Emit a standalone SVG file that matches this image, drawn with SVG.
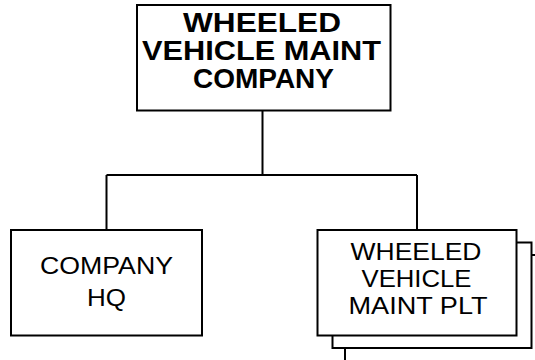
<svg xmlns="http://www.w3.org/2000/svg" width="535" height="360" viewBox="0 0 535 360">
<style>
.box{fill:#fff;stroke:#000;stroke-width:2}
.ln{fill:none;stroke:#000;stroke-width:2}
.t{font-family:"Liberation Sans",Arial,sans-serif;fill:#000;text-anchor:middle}
.b{font-weight:bold;font-size:27px}
.r{font-size:24px}
</style>
<rect width="535" height="360" fill="#fff"/>
<g id="connectors">
<path class="ln" d="M262.5,110.5V175M106.5,175H417M106.5,175V230M417,175V230"/>
</g>
<g id="top">
<rect class="box" x="137" y="5" width="253.5" height="105.5"/>
<text class="t b" x="262" y="32" textLength="158" lengthAdjust="spacingAndGlyphs">WHEELED</text>
<text class="t b" x="261.5" y="60" textLength="239" lengthAdjust="spacingAndGlyphs">VEHICLE MAINT</text>
<text class="t b" x="263.5" y="88" textLength="141" lengthAdjust="spacingAndGlyphs">COMPANY</text>
</g>
<g id="hq">
<rect class="box" x="11" y="230" width="191" height="105.5"/>
<text class="t r" x="106.5" y="274" textLength="133" lengthAdjust="spacingAndGlyphs">COMPANY</text>
<text class="t r" x="106.5" y="306" textLength="39" lengthAdjust="spacingAndGlyphs">HQ</text>
</g>
<g id="plt">
<path class="ln" d="M345,360V255H536"/>
<rect class="box" x="332.5" y="242.5" width="199" height="105.5"/>
<rect class="box" x="317.5" y="230" width="199" height="105.5"/>
<text class="t r" x="416" y="259.5" textLength="131" lengthAdjust="spacingAndGlyphs">WHEELED</text>
<text class="t r" x="416.5" y="286.5" textLength="110" lengthAdjust="spacingAndGlyphs">VEHICLE</text>
<text class="t r" x="418" y="313.5" textLength="139" lengthAdjust="spacingAndGlyphs">MAINT PLT</text>
</g>
</svg>
